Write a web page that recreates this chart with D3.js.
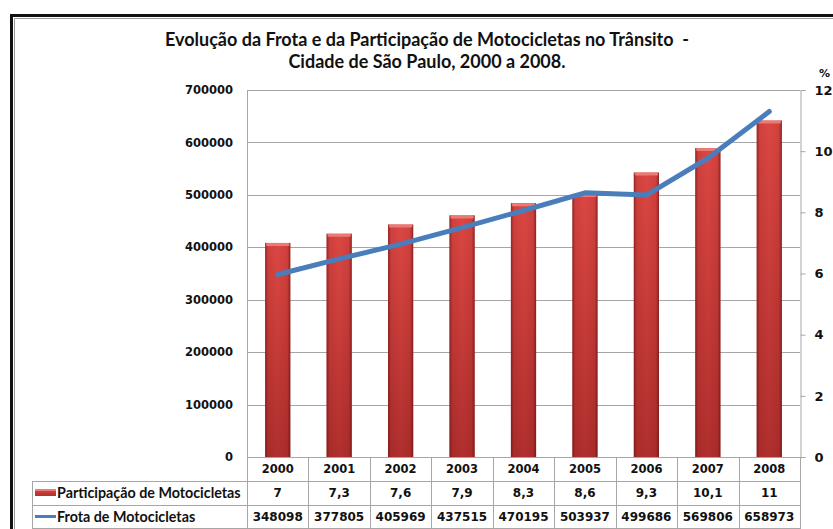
<!DOCTYPE html>
<html>
<head>
<meta charset="utf-8">
<script src="https://cdn.jsdelivr.net/npm/d3@7"></script>
<style>
  body { margin: 0; padding: 0; background: #fff; }
  svg { display: block; }
</style>
</head>
<body>
<svg id="chart" width="833" height="529"></svg>
<script>
// data
const years = ["2000", "2001", "2002", "2003", "2004", "2005", "2006", "2007", "2008"];
const participacao = [7, 7.3, 7.6, 7.9, 8.3, 8.6, 9.3, 10.1, 11];
const participacaoLabels = ["7", "7,3", "7,6", "7,9", "8,3", "8,6", "9,3", "10,1", "11"];
const frota = [348098, 377805, 405969, 437515, 470195, 503937, 499686, 569806, 658973];
const leftTicks = [0, 100000, 200000, 300000, 400000, 500000, 600000, 700000];
const rightTicks = [0, 2, 4, 6, 8, 10, 12];

const svg = d3.select("#chart");
const W = 833, H = 529;
const plot = { left: 247, right: 800, top: 90, bottom: 457 };
const rowH = 24;
const tableLeft = 32;

const numFont = "'DejaVu Sans', Verdana, sans-serif";
const txtFont = "Lato, 'Open Sans', sans-serif";
const gridColor = "#a6a6a6";

// gradients for the bars
const defs = svg.append("defs");
const vGrad = defs.append("linearGradient").attr("id", "barV")
  .attr("x1", 0).attr("y1", 0).attr("x2", 0).attr("y2", 1);
vGrad.append("stop").attr("offset", "0%").attr("stop-color", "#dc4743");
vGrad.append("stop").attr("offset", "100%").attr("stop-color", "#b02f2d");
const hGrad = defs.append("linearGradient").attr("id", "barH")
  .attr("x1", 0).attr("y1", 0).attr("x2", 1).attr("y2", 0);
hGrad.append("stop").attr("offset", "0%").attr("stop-color", "#5a0c0c").attr("stop-opacity", 0.55);
hGrad.append("stop").attr("offset", "12%").attr("stop-color", "#5a0c0c").attr("stop-opacity", 0.1);
hGrad.append("stop").attr("offset", "50%").attr("stop-color", "#5a0c0c").attr("stop-opacity", 0);
hGrad.append("stop").attr("offset", "88%").attr("stop-color", "#5a0c0c").attr("stop-opacity", 0.1);
hGrad.append("stop").attr("offset", "100%").attr("stop-color", "#5a0c0c").attr("stop-opacity", 0.6);

svg.append("rect").attr("width", W).attr("height", H).attr("fill", "#fff");

// outer frame
svg.append("path")
  .attr("d", `M11.5,${H} V15.5 H${W}`)
  .attr("fill", "none").attr("stroke", "#111").attr("stroke-width", 3);
svg.append("path")
  .attr("d", `M14.5,${H} V18.5 H${W}`)
  .attr("fill", "none").attr("stroke", "#9a9a9a").attr("stroke-width", 1);

// title
const title = svg.append("text")
  .attr("x", 427).attr("text-anchor", "middle")
  .attr("font-family", txtFont).attr("font-weight", "bold")
  .attr("font-size", 18).attr("fill", "#111")
  .style("white-space", "pre");
title.append("tspan").attr("x", 427).attr("y", 46)
  .text("Evolução da Frota e da Participação de Motocicletas no Trânsito\u00a0\u00a0-");
title.append("tspan").attr("x", 427).attr("y", 68)
  .text("Cidade de São Paulo, 2000 a 2008.");

// scales
const x = d3.scaleBand().domain(years).range([plot.left, plot.right]).paddingInner(0).paddingOuter(0);
const yLeft = d3.scaleLinear().domain([0, 700000]).range([plot.bottom, plot.top]);
const yRight = d3.scaleLinear().domain([0, 12]).range([plot.bottom, plot.top]);

// gridlines
svg.append("g").selectAll("line").data(leftTicks).join("line")
  .attr("x1", plot.left).attr("x2", plot.right)
  .attr("y1", d => Math.round(yLeft(d)) + 0.5).attr("y2", d => Math.round(yLeft(d)) + 0.5)
  .attr("stroke", gridColor).attr("stroke-width", 1);

// plot left border
svg.append("line")
  .attr("x1", plot.left + 0.5).attr("x2", plot.left + 0.5)
  .attr("y1", plot.top).attr("y2", plot.bottom)
  .attr("stroke", gridColor);

// left axis labels
svg.append("g").selectAll("text").data(leftTicks).join("text")
  .attr("x", 233).attr("y", d => yLeft(d)).attr("dy", "0.36em")
  .attr("text-anchor", "end")
  .attr("font-family", numFont).attr("font-weight", "bold").attr("font-size", 11.5)
  .attr("fill", "#111")
  .text(d => d);

// right axis
const rightAxis = d3.axisRight(yRight).tickValues(rightTicks).tickSize(5).tickPadding(9);
const ra = svg.append("g").attr("transform", `translate(${plot.right + 0.5},0)`).call(rightAxis);
ra.select(".domain").attr("stroke", gridColor);
ra.selectAll(".tick line").attr("stroke", gridColor);
ra.selectAll(".tick text")
  .attr("font-family", numFont).attr("font-weight", "bold").attr("font-size", 13)
  .attr("fill", "#111");
svg.append("text").attr("x", 819).attr("y", 77)
  .attr("font-family", numFont).attr("font-weight", "bold").attr("font-size", 11)
  .attr("fill", "#111").text("%");

// bars (participação, right axis)
const barW = x.bandwidth() * 0.41;
const bars = svg.append("g").selectAll("g").data(years).join("g");
bars.append("rect")
  .attr("x", (d, i) => x(d) + (x.bandwidth() - barW) / 2)
  .attr("y", (d, i) => yRight(participacao[i]))
  .attr("width", barW)
  .attr("height", (d, i) => plot.bottom - yRight(participacao[i]))
  .attr("fill", "url(#barV)");
bars.append("rect")
  .attr("x", (d, i) => x(d) + (x.bandwidth() - barW) / 2)
  .attr("y", (d, i) => yRight(participacao[i]))
  .attr("width", barW)
  .attr("height", (d, i) => plot.bottom - yRight(participacao[i]))
  .attr("fill", "url(#barH)");
bars.append("rect")
  .attr("x", (d, i) => x(d) + (x.bandwidth() - barW) / 2 + 1)
  .attr("y", (d, i) => yRight(participacao[i]))
  .attr("width", barW - 2)
  .attr("height", 3)
  .attr("rx", 1)
  .attr("fill", "#ec7a74");

// line (frota, left axis)
const line = d3.line()
  .x((d, i) => x(years[i]) + x.bandwidth() / 2)
  .y(d => yLeft(d));
svg.append("path").datum(frota)
  .attr("d", line)
  .attr("fill", "none").attr("stroke", "#4a7ebb").attr("stroke-width", 5)
  .attr("stroke-linecap", "round").attr("stroke-linejoin", "round");

// data table
const table = svg.append("g");
const rowsY = [plot.bottom, plot.bottom + rowH, plot.bottom + 2 * rowH, plot.bottom + 3 * rowH];
// horizontal lines
table.append("line").attr("x1", plot.left).attr("x2", plot.right)
  .attr("y1", rowsY[0] + 0.5).attr("y2", rowsY[0] + 0.5).attr("stroke", gridColor);
[rowsY[1], rowsY[2], rowsY[3] - 1].forEach(yv => {
  table.append("line").attr("x1", tableLeft).attr("x2", plot.right)
    .attr("y1", yv + 0.5).attr("y2", yv + 0.5).attr("stroke", gridColor);
});
// vertical lines
const colEdges = years.map(d => x(d)).concat([plot.right]);
table.selectAll(".vline").data(colEdges).join("line")
  .attr("class", "vline")
  .attr("x1", d => Math.round(d) + 0.5).attr("x2", d => Math.round(d) + 0.5)
  .attr("y1", rowsY[0]).attr("y2", H)
  .attr("stroke", gridColor);
table.append("line").attr("x1", tableLeft + 0.5).attr("x2", tableLeft + 0.5)
  .attr("y1", rowsY[1]).attr("y2", H).attr("stroke", gridColor);

// header row: years
table.selectAll(".yr").data(years).join("text")
  .attr("class", "yr")
  .attr("x", d => x(d) + x.bandwidth() / 2).attr("y", rowsY[0] + rowH / 2).attr("dy", "0.36em")
  .attr("text-anchor", "middle")
  .attr("font-family", numFont).attr("font-weight", "bold").attr("font-size", 11.5)
  .attr("fill", "#111").text(d => d);

// row 1: participação
table.selectAll(".pv").data(participacaoLabels).join("text")
  .attr("class", "pv")
  .attr("x", (d, i) => x(years[i]) + x.bandwidth() / 2).attr("y", rowsY[1] + rowH / 2).attr("dy", "0.36em")
  .attr("text-anchor", "middle")
  .attr("font-family", numFont).attr("font-weight", "bold").attr("font-size", 12)
  .attr("fill", "#111").text(d => d);

// row 2: frota
table.selectAll(".fv").data(frota).join("text")
  .attr("class", "fv")
  .attr("x", (d, i) => x(years[i]) + x.bandwidth() / 2).attr("y", rowsY[2] + rowH / 2).attr("dy", "0.36em")
  .attr("text-anchor", "middle")
  .attr("font-family", numFont).attr("font-weight", "bold").attr("font-size", 12)
  .attr("fill", "#111").text(d => d);

// legend keys + labels
table.append("rect").attr("x", 35).attr("y", rowsY[1] + 8).attr("width", 21).attr("height", 7)
  .attr("fill", "url(#barV)");
table.append("rect").attr("x", 35).attr("y", rowsY[1] + 8).attr("width", 21).attr("height", 2)
  .attr("fill", "#ec7a74");
table.append("line").attr("x1", 35).attr("x2", 56)
  .attr("y1", rowsY[2] + 11.5).attr("y2", rowsY[2] + 11.5)
  .attr("stroke", "#4a7ebb").attr("stroke-width", 3);

table.append("text").attr("x", 57).attr("y", rowsY[1] + rowH / 2).attr("dy", "0.36em")
  .attr("font-family", txtFont).attr("font-weight", "bold").attr("font-size", 14.3)
  .attr("fill", "#111").text("Participação de Motocicletas");
table.append("text").attr("x", 57).attr("y", rowsY[2] + rowH / 2).attr("dy", "0.36em")
  .attr("font-family", txtFont).attr("font-weight", "bold").attr("font-size", 14.3)
  .attr("fill", "#111").text("Frota de Motocicletas");
</script>
</body>
</html>
